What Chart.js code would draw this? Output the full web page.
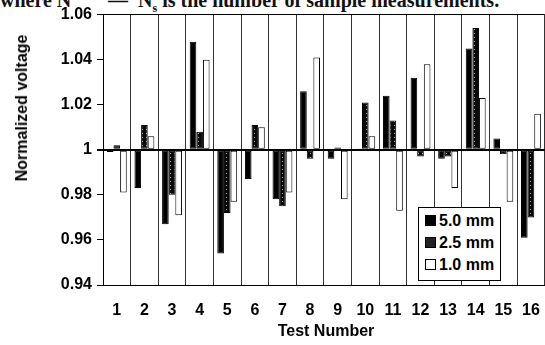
<!DOCTYPE html>
<html>
<head>
<meta charset="utf-8">
<script src="https://cdn.jsdelivr.net/npm/chart.js@4/dist/chart.umd.min.js"></script>
<style>
  body { margin: 0; width: 545px; height: 345px; overflow: hidden; background: #fff; position: relative; font-family: "Liberation Sans", Arial, sans-serif; }
  #wrap { position: absolute; left: 0; top: 0; width: 556px; height: 345px; }
  .top { position: absolute; top: -11px; line-height: 20px; font: bold 20px "Liberation Serif", serif; white-space: pre; color: #111; }
  #ytitle { position: absolute; left: 22px; top: 108px; transform: translate(-50%, -50%) rotate(-90deg); font: bold 16px "Liberation Sans", Arial, sans-serif; white-space: nowrap; }
  #xtitle { position: absolute; left: 326px; top: 331px; transform: translate(-50%, -50%); font: bold 16px "Liberation Sans", Arial, sans-serif; white-space: nowrap; }
  #legend { position: absolute; left: 418px; top: 207px; width: 83px; height: 74px; border: 1px solid #000; background: #fff; box-sizing: border-box; }
  .item { position: absolute; left: 6px; height: 20px; line-height: 20px; font: bold 16px "Liberation Sans", Arial, sans-serif; white-space: nowrap; }
  .item i { display: inline-block; width: 9px; height: 9px; border: 1px solid #000; margin-right: 3px; vertical-align: 0px; }
</style>
</head>
<body>
<div class="top" style="left:0px">where N</div>
<div class="top" style="left:108px">—  N<sub style="font-size:12px">s</sub> is the number of sample measurements.</div>
<div id="wrap"><canvas id="myChart"></canvas></div>
<div id="ytitle">Normalized voltage</div>
<div id="xtitle">Test Number</div>
<div id="legend"></div>
<script>
// データ
var testNumbers = ["1", "2", "3", "4", "5", "6", "7", "8", "9", "10", "11", "12", "13", "14", "15", "16"];
var seriesNames = ["5.0 mm", "2.5 mm", "1.0 mm"];
var v50 = [0.999, 0.983, 0.967, 1.048, 0.954, 0.987, 0.978, 1.026, 0.996, 1.0003, 1.024, 1.032, 0.996, 1.045, 1.005, 0.961];
var v25 = [1.002, 1.011, 0.980, 1.008, 0.972, 1.011, 0.975, 0.996, 1.001, 1.021, 1.013, 0.997, 0.997, 1.054, 0.998, 0.970];
var v10 = [0.981, 1.006, 0.971, 1.040, 0.977, 1.010, 0.981, 1.041, 0.978, 1.006, 0.973, 1.038, 0.983, 1.023, 0.977, 1.016];
var yTicks = [0.94, 0.96, 0.98, 1, 1.02, 1.04, 1.06];
var yTickLabels = ["0.94", "0.96", "0.98", "1", "1.02", "1.04", "1.06"];

// 2.5 mm のドット模様
function makePattern(){
    var c = document.createElement('canvas');
    c.width = 4; c.height = 4;
    var g = c.getContext('2d');
    g.fillStyle = '#0a0a0a';
    g.fillRect(0, 0, 4, 4);
    g.fillStyle = '#aaa';
    g.fillRect(2, 1, 1, 1);
    return g.createPattern(c, 'repeat');
}
var dotPattern = makePattern();
var fills = ['#000', dotPattern, '#fff'];

// 凡例
var legend = document.getElementById('legend');
seriesNames.forEach(function(name, i){
    var d = document.createElement('div');
    d.className = 'item';
    d.style.top = (4 + i * 22) + 'px';
    var sw = document.createElement('i');
    sw.style.background = i == 0 ? '#000' : (i == 1 ? '#222' : '#fff');
    d.appendChild(sw);
    d.appendChild(document.createTextNode(name));
    legend.appendChild(d);
});

var ctx = document.getElementById('myChart');
var myChart = new Chart(ctx, {
    type: 'bar',
    data: {
        labels: testNumbers,
        datasets: [v50, v25, v10].map(function(vals, i){
            return {
                label: seriesNames[i],
                data: vals,
                base: 1,
                backgroundColor: fills[i],
                borderColor: '#000',
                borderWidth: 1,
                borderSkipped: false,
                categoryPercentage: 0.72,
                barPercentage: 1.0
            };
        })
    },
    options: {
        responsive: true,
        maintainAspectRatio: false,
        animation: false,
        layout: { padding: { top: 14, left: 0, right: 5, bottom: 0 } },
        plugins: { legend: { display: false }, tooltip: { enabled: false } },
        scales: {
            x: {
                grid: { offset: true, color: '#333', lineWidth: 1, drawTicks: false },
                border: { color: '#000', width: 1 },
                ticks: { color: '#000', padding: 16, font: { family: 'Liberation Sans', size: 16, weight: 'bold' } },
                afterFit: function(scale){ scale.height = 60; }
            },
            y: {
                min: 0.94,
                max: 1.06,
                afterBuildTicks: function(scale){
                    scale.ticks = yTicks.map(function(v){ return { value: v }; });
                },
                grid: {
                    color: function(c){
                        var v = c.tick ? c.tick.value : null;
                        return (v == 1 || v == 1.06 || v == 0.94) ? '#000' : 'rgba(0,0,0,0)';
                    },
                    lineWidth: function(c){ return (c.tick && c.tick.value == 1) ? 2 : 1; },
                    tickColor: '#000',
                    tickLength: 6
                },
                border: { color: '#000', width: 1 },
                ticks: {
                    color: '#000',
                    padding: 5,
                    font: { family: 'Liberation Sans', size: 16, weight: 'bold' },
                    callback: function(value){
                        var k = yTicks.indexOf(value);
                        return k >= 0 ? yTickLabels[k] : '';
                    }
                },
                afterFit: function(scale){ scale.width = 103; }
            }
        }
    }
});
</script>
</body>
</html>
